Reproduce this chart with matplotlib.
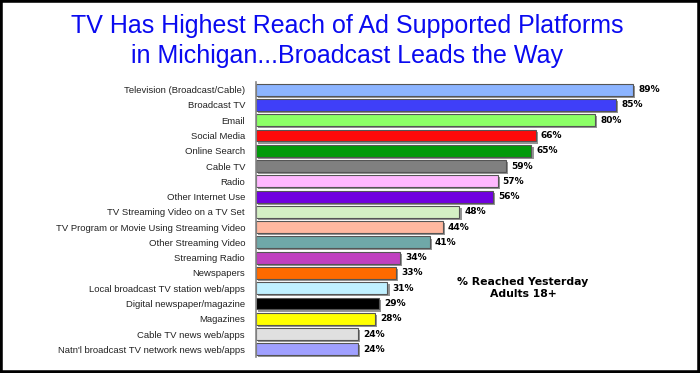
import matplotlib
matplotlib.use("Agg")
import matplotlib.pyplot as plt
import matplotlib.patheffects as pe
from matplotlib.patches import Rectangle

categories = [
    "Television (Broadcast/Cable)", "Broadcast TV", "Email", "Social Media",
    "Online Search", "Cable TV", "Radio", "Other Internet Use",
    "TV Streaming Video on a TV Set", "TV Program or Movie Using Streaming Video",
    "Other Streaming Video", "Streaming Radio", "Newspapers",
    "Local broadcast TV station web/apps", "Digital newspaper/magazine",
    "Magazines", "Cable TV news web/apps", "Natn'l broadcast TV network news web/apps",
]
values = [89, 85, 80, 66, 65, 59, 57, 56, 48, 44, 41, 34, 33, 31, 29, 28, 24, 24]
colors = [
    "#8cb4ff", "#3f3ff8", "#8cff66", "#ff0a0a", "#029a0a", "#808080",
    "#ffb8ff", "#7000e0", "#d4f0c4", "#ffb8a0", "#6fa8a8", "#c040c0",
    "#ff6a00", "#c0f0ff", "#000000", "#ffff00", "#e0e0e0", "#a0a0ff",
]
title = "TV Has Highest Reach of Ad Supported Platforms\nin Michigan...Broadcast Leads the Way"
note = "% Reached Yesterday\nAdults 18+"

fig = plt.figure(figsize=(7.0, 3.73), dpi=100)
fig.patches.append(Rectangle((0, 0), 1, 1, transform=fig.transFigure,
                             fill=False, edgecolor="black", linewidth=4, zorder=10))

ax = fig.add_axes([0.366, 0.043, 0.605, 0.737])
y = list(range(len(categories)))
bars = ax.barh(y, values, height=0.78, color=colors, edgecolor="#555555", linewidth=0.8)
for b in bars:
    b.set_path_effects([pe.SimplePatchShadow(offset=(1.5, -1.5), shadow_rgbFace="#888888", alpha=0.9), pe.Normal()])
ax.set_ylim(len(categories) - 0.5, -0.5)
ax.set_xlim(0, 100)
ax.set_yticks(y)
ax.set_yticklabels(categories, fontsize=6.8, color="#222222", family="Liberation Sans")
ax.tick_params(axis="y", length=0, pad=8)
ax.set_xticks([])
for s in ["top", "right", "bottom"]:
    ax.spines[s].set_visible(False)
ax.spines["left"].set_color("#888888")
ax.spines["left"].set_linewidth(1.2)

for yi, v in zip(y, values):
    ax.text(v + 1.2, yi, f"{v}%", va="center", ha="left", fontsize=6.5,
            fontweight="bold", color="black", family="DejaVu Sans")

ax.text(0.63, 0.25, note, transform=ax.transAxes, ha="center", va="center",
        fontsize=7.8, fontweight="bold", linespacing=1.2, family="DejaVu Sans")

fig.text(0.496, 0.89, title, ha="center", va="center", fontsize=18,
         color="#0a0af0", family="Liberation Sans", linespacing=1.3)

fig.savefig("out.png", dpi=100)
